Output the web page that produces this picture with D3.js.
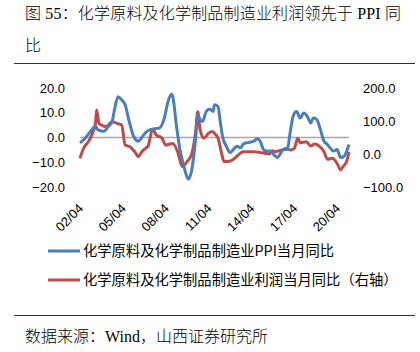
<!DOCTYPE html>
<html lang="zh">
<head>
  <meta charset="UTF-8">
  <title>图 55</title>
  <script src="https://d3js.org/d3.v7.min.js"></script>
  <style>
    body { margin: 0; background: white; }
    .cap { font-family: "Liberation Serif", "Noto Sans CJK SC", serif; font-size: 16px; font-weight: 300; fill: #000; }
    .tick-label { font-family: "Liberation Sans", "Noto Sans", sans-serif; font-size: 13px; fill: #000; }
    .legend { font-family: "Noto Sans CJK SC", sans-serif; font-size: 14.3px; fill: #000; }
  </style>
</head>
<body>
<svg id="svg" width="420" height="352"></svg>
<script>
// PPI YoY, chemical materials & products (left axis, %)
const ppiDates = ["2002-01","2002-05","2002-09","2003-02","2003-04","2003-09","2004-01","2004-04","2004-06","2004-09",
  "2004-12","2005-03","2005-06","2005-10","2006-02","2006-05","2006-08","2006-12","2007-08","2007-12",
  "2008-03","2008-06","2008-07","2008-10","2009-01","2009-04","2009-07","2009-08","2009-11","2010-02",
  "2010-04","2010-06","2010-08","2010-11","2011-02","2011-05","2011-06","2011-09","2011-11","2012-01",
  "2012-04","2012-07","2012-10","2013-01","2013-04","2013-06","2013-09","2013-12","2014-03","2014-06",
  "2014-09","2014-11","2015-02","2015-05","2015-08","2015-11","2016-01","2016-04","2016-07","2016-10",
  "2016-12","2017-03","2017-06","2017-09","2017-12","2018-03","2018-05","2018-08","2018-11","2019-02",
  "2019-05","2019-07","2019-10","2020-01","2020-04","2020-07","2020-09","2020-11"];
const ppiValues = [-2.1,-0.5,1.9,4.5,3.2,2.5,4.5,6.5,11.2,16.5,
  15.2,13.2,7.2,0.5,-1.5,0,1.9,3.2,3.9,8,
  14.5,17.5,16.5,5,-5,-11,-16,-16.8,-12.8,-1,
  9,7.2,6.5,10.5,11.5,10.5,13.2,12.5,5.9,-0.1,
  -3.5,-6.1,-4.8,-3.5,-4.1,-2.8,-2.1,-1.9,-1.5,-0.5,
  -2.1,-4.8,-5.5,-5.5,-7,-8.1,-6.8,-4.8,-4.8,3.2,
  8.5,10.5,7.9,9.9,8.5,5.9,7.9,7.2,3.2,-1.5,
  -2.8,-4.1,-5.5,-4.8,-8.1,-7.5,-5.5,-2.8];

// profit YoY, chemical materials & products (right axis, %)
const profitDates = ["2002-01","2002-04","2002-08","2002-11","2003-02","2003-03","2003-05","2003-07","2003-11","2004-04",
  "2004-08","2004-12","2005-03","2005-07","2005-11","2006-02","2006-05","2006-08","2006-10","2007-02",
  "2007-05","2007-10","2008-01","2008-07","2008-11","2009-03","2009-07","2009-11","2010-02","2010-04",
  "2010-06","2010-09","2011-01","2011-04","2011-06","2011-09","2011-12","2012-02","2012-05","2012-09",
  "2013-02","2013-06","2014-03","2014-10","2015-04","2015-07","2015-09","2015-11","2016-03","2016-06",
  "2016-10","2017-01","2017-04","2017-06","2017-11","2018-03","2018-06","2018-10","2019-02","2019-05",
  "2019-09","2020-01","2020-04","2020-06","2020-09","2020-11"];
const profitValues = [-13,17,37,58,93,133,93,88,83,98,
  93,88,27,22,7,-8,7,17,22,75,
  58,48,27,32,7,-38,-23,2,63,128,
  73,48,63,68,63,48,2,-23,-23,-18,
  -3,7,7,4,0,10,7,9,12,17,
  12,17,48,34,37,24,30,24,7,-16,
  -13,-28,-48,-38,-23,7];

const leftTicks = [20, 10, 0, -10, -20];
const rightTicks = [200, 100, 0, -100];
const xTickDates = ["2002-04","2005-04","2008-04","2011-04","2014-04","2017-04","2020-04"];
const seriesNames = ["化学原料及化学制品制造业PPI当月同比", "化学原料及化学制品制造业利润当月同比（右轴）"];
const colors = ["#4a7ebb", "#be4b48"];

const parse = d3.timeParse("%Y-%m");
const fmtTick = d3.timeFormat("%y/%m");

const svg = d3.select("#svg");

// caption and rules
svg.append("text").attr("class", "cap").attr("x", 25).attr("y", 19)
  .attr("textLength", 376).attr("lengthAdjust", "spacing")
  .text("图 55：化学原料及化学制品制造业利润领先于 PPI 同");
svg.append("text").attr("class", "cap").attr("x", 25).attr("y", 51).text("比");
svg.append("line").attr("x1", 14).attr("x2", 415).attr("y1", 63.5).attr("y2", 63.5)
  .attr("stroke", "#333").attr("stroke-width", 1);
svg.append("line").attr("x1", 14).attr("x2", 415).attr("y1", 315.5).attr("y2", 315.5)
  .attr("stroke", "#333").attr("stroke-width", 1);
svg.append("text").attr("class", "cap").attr("x", 25).attr("y", 342)
  .text("数据来源：Wind，山西证券研究所");

// scales
const x = d3.scaleTime().domain([parse("2002-01"), parse("2020-11")]).range([80, 349]);
const yL = d3.scaleLinear().domain([-20, 20]).range([187, 88]);
const yR = d3.scaleLinear().domain([-100, 200]).range([187, 88]);

// zero line
svg.append("line").attr("x1", 80).attr("x2", 349).attr("y1", yL(0)).attr("y2", yL(0))
  .attr("stroke", "#a6a6a6").attr("stroke-width", 1.3);

// axes (labels only)
const axL = svg.append("g").attr("transform", "translate(65,0)")
  .call(d3.axisLeft(yL).tickValues(leftTicks).tickFormat(d3.format(".1f")).tickSize(0).tickPadding(0));
const axR = svg.append("g").attr("transform", "translate(363,0)")
  .call(d3.axisRight(yR).tickValues(rightTicks).tickFormat(d3.format(".1f")).tickSize(0).tickPadding(0));
const axB = svg.append("g").attr("transform", "translate(0,196)")
  .call(d3.axisBottom(x).tickValues(xTickDates.map(parse)).tickFormat(fmtTick).tickSize(0).tickPadding(0));
[axL, axR, axB].forEach(g => {
  g.select(".domain").remove();
  g.selectAll("text").attr("class", "tick-label").attr("font-family", null).attr("font-size", null);
});
axB.selectAll("text").attr("text-anchor", "end").attr("dy", "0.35em")
  .attr("transform", "translate(-6,10) rotate(-45)").attr("x", 2).attr("y", 2);

// lines
const ppi = ppiDates.map((d, i) => ({ date: parse(d), v: ppiValues[i] }));
const profit = profitDates.map((d, i) => ({ date: parse(d), v: profitValues[i] }));

svg.append("path").datum(profit)
  .attr("fill", "none").attr("stroke", colors[1]).attr("stroke-width", 3).attr("stroke-linejoin", "round")
  .attr("d", d3.line().x(d => x(d.date)).y(d => yR(d.v)).curve(d3.curveMonotoneX));
svg.append("path").datum(ppi)
  .attr("fill", "none").attr("stroke", colors[0]).attr("stroke-width", 3).attr("stroke-linejoin", "round")
  .attr("d", d3.line().x(d => x(d.date)).y(d => yL(d.v)).curve(d3.curveMonotoneX));

// legend
const legendY = [251, 280];
seriesNames.forEach((name, i) => {
  svg.append("line").attr("x1", 48).attr("x2", 80).attr("y1", legendY[i]).attr("y2", legendY[i])
    .attr("stroke", colors[i]).attr("stroke-width", 3);
  svg.append("text").attr("class", "legend").attr("x", 83).attr("y", legendY[i]).attr("dy", "0.35em").text(name);
});
</script>
</body>
</html>
